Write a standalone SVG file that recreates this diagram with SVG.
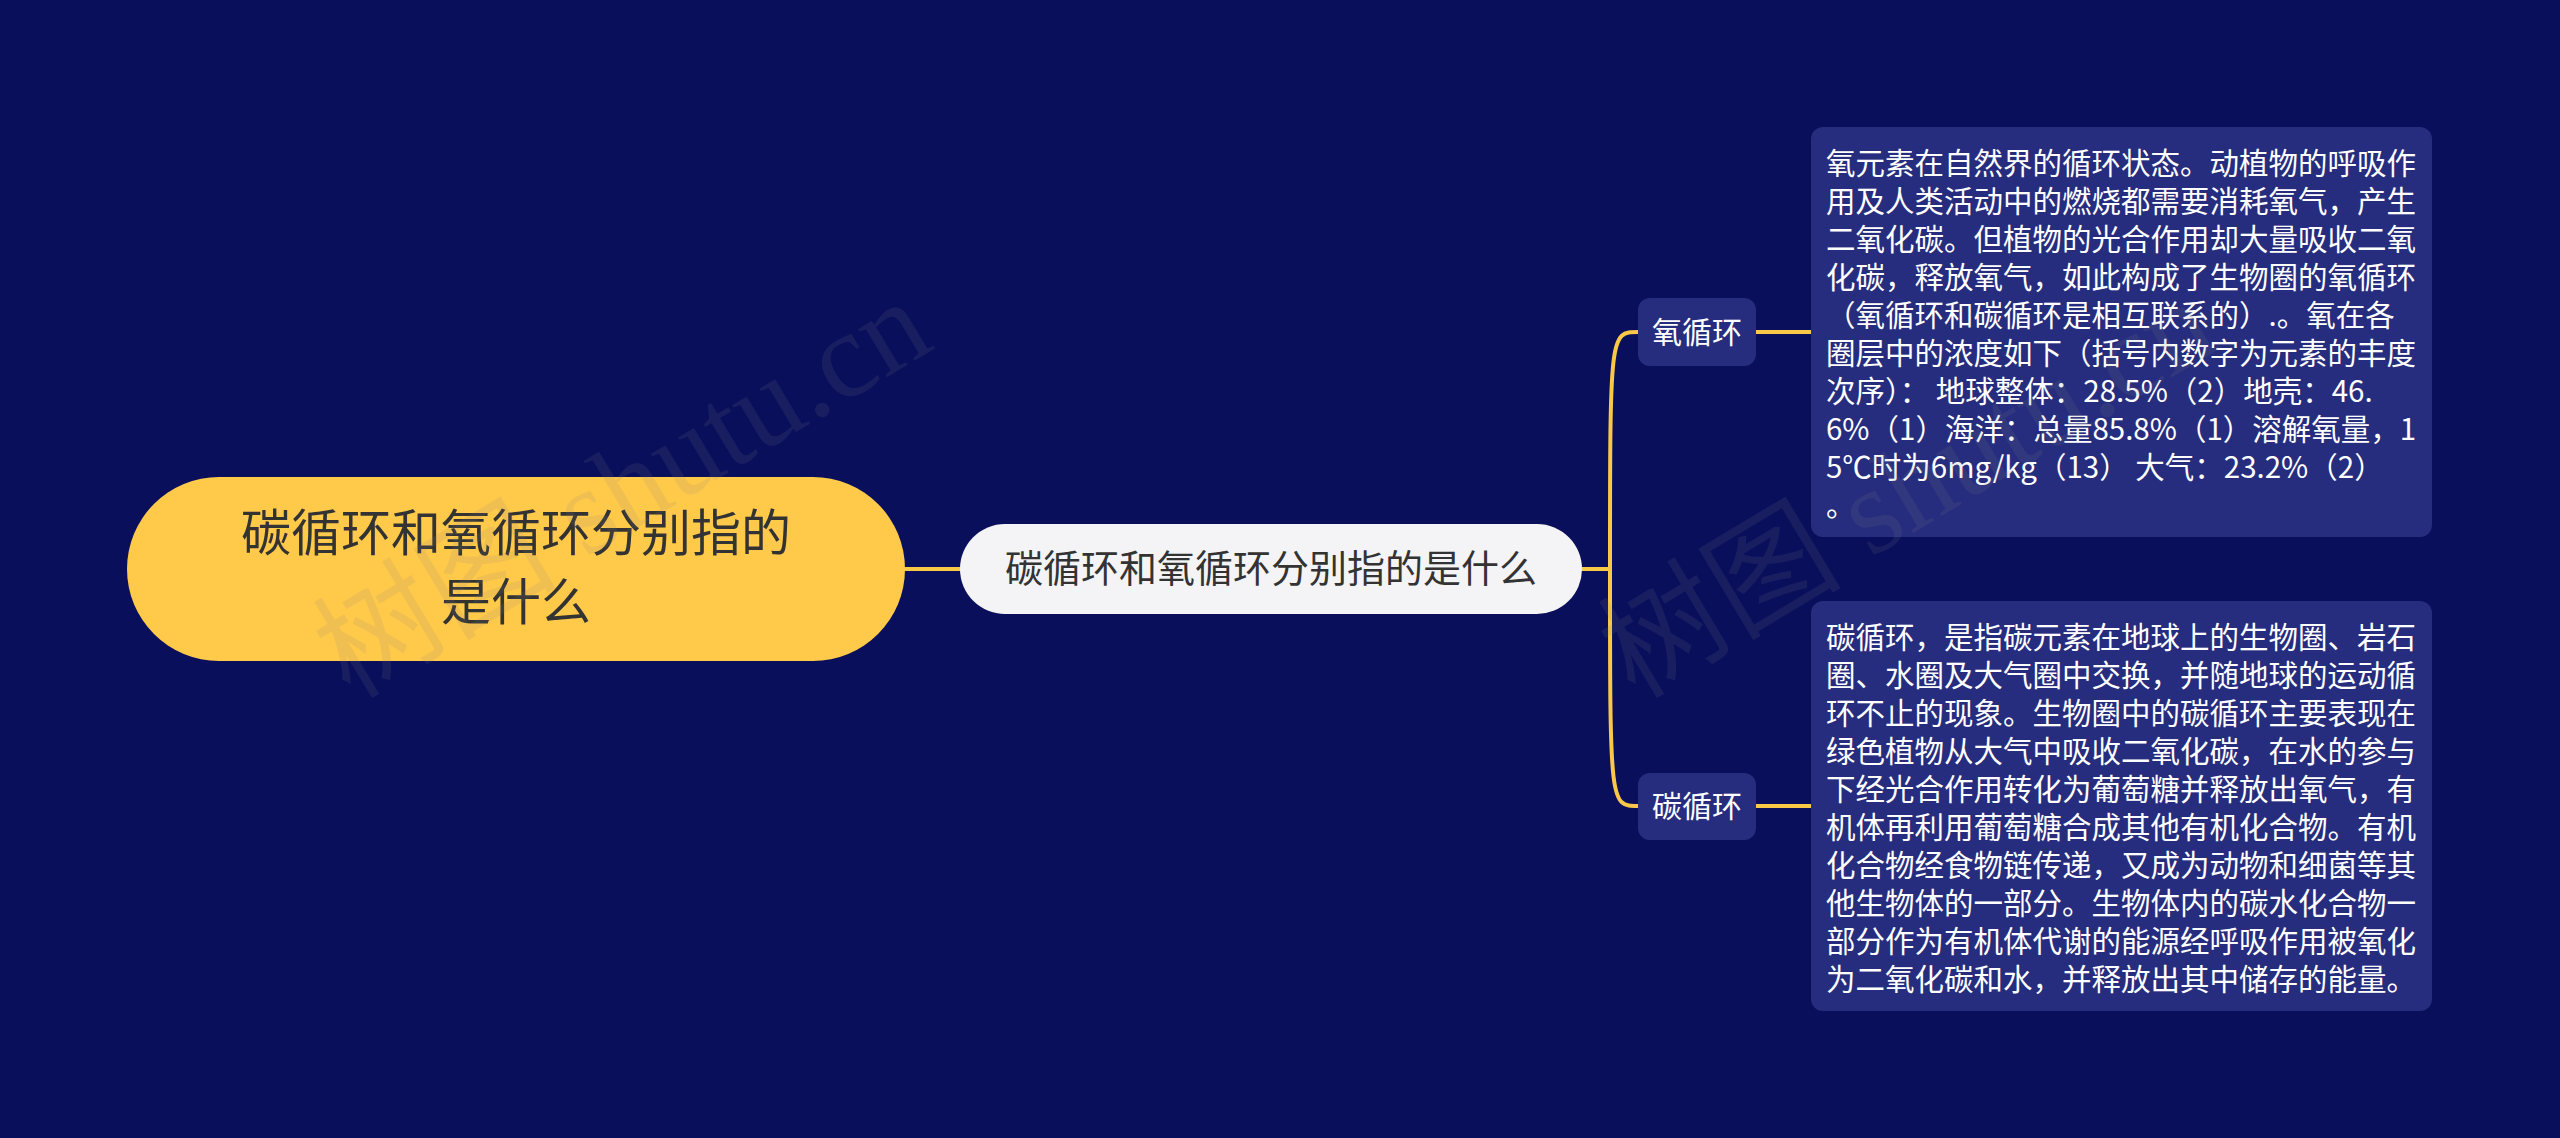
<svg xmlns="http://www.w3.org/2000/svg" width="2560" height="1138" viewBox="0 0 2560 1138">
<style>
.cjk{font-family:"Noto Sans CJK SC","Noto Sans",sans-serif}
.rootText{font-size:50px;fill:#333333;text-anchor:middle}
.centerText{font-size:38px;fill:#333333;text-anchor:middle}
.subText{font-size:30px;fill:#ffffff;text-anchor:middle}
.boxText{font-size:29.5px;fill:#ffffff}
.sub{fill:#272d7e}
.link{fill:none;stroke:#f9c846;stroke-width:4;stroke-linecap:round}
.wm{font-family:"Liberation Serif","Noto Sans CJK SC",serif;font-size:122px;fill:#808080;fill-opacity:0.13}
</style>
<rect x="0" y="0" width="2560" height="1138" fill="#0a0f5c"/>
<g id="connectors">
<path class="link" d="M905,569 H960"/>
<path class="link" d="M1582,569 H1610 C1610,332 1610,332 1638,332"/>
<path class="link" d="M1610,569 C1610,806 1610,806 1638,806"/>
<path class="link" d="M1756,332 H1811"/>
<path class="link" d="M1756,806 H1811"/>
</g>
<g id="root">
<rect x="127" y="477" width="778" height="184" rx="92" ry="92" fill="#ffc94a"/>
<text class="cjk rootText"><tspan x="516" y="551">碳循环和氧循环分别指的</tspan><tspan x="516" y="620">是什么</tspan></text>
</g>
<g id="center">
<rect x="960" y="524" width="622" height="90" rx="45" ry="45" fill="#f4f4f6"/>
<text class="cjk centerText" x="1271" y="582">碳循环和氧循环分别指的是什么</text>
</g>
<g id="oxygen">
<rect class="sub" x="1638" y="298" width="118" height="68" rx="12" ry="12"/>
<text class="cjk subText" x="1697" y="343">氧循环</text>
</g>
<g id="carbon">
<rect class="sub" x="1638" y="773" width="118" height="67" rx="12" ry="12"/>
<text class="cjk subText" x="1697" y="817">碳循环</text>
</g>
<g id="oxygen-detail">
<rect class="sub" x="1811" y="127" width="621" height="410" rx="12" ry="12"/>
<text class="cjk boxText">
<tspan x="1826" y="174">氧元素在自然界的循环状态。动植物的呼吸作</tspan>
<tspan x="1826" y="212">用及人类活动中的燃烧都需要消耗氧气，产生</tspan>
<tspan x="1826" y="250">二氧化碳。但植物的光合作用却大量吸收二氧</tspan>
<tspan x="1826" y="288">化碳，释放氧气，如此构成了生物圈的氧循环</tspan>
<tspan x="1826" y="326">（氧循环和碳循环是相互联系的）.。氧在各</tspan>
<tspan x="1826" y="364">圈层中的浓度如下（括号内数字为元素的丰度</tspan>
<tspan x="1826" y="402">次序）： 地球整体：28.5%（2）地壳：46.</tspan>
<tspan x="1826" y="440">6%（1）海洋：总量85.8%（1）溶解氧量，1</tspan>
<tspan x="1826" y="478">5℃时为6mg/kg（13） 大气：23.2%（2）</tspan>
<tspan x="1826" y="516">。</tspan>
</text>
</g>
<g id="carbon-detail">
<rect class="sub" x="1811" y="601" width="621" height="410" rx="12" ry="12"/>
<text class="cjk boxText">
<tspan x="1826" y="648">碳循环，是指碳元素在地球上的生物圈、岩石</tspan>
<tspan x="1826" y="686">圈、水圈及大气圈中交换，并随地球的运动循</tspan>
<tspan x="1826" y="724">环不止的现象。生物圈中的碳循环主要表现在</tspan>
<tspan x="1826" y="762">绿色植物从大气中吸收二氧化碳，在水的参与</tspan>
<tspan x="1826" y="800">下经光合作用转化为葡萄糖并释放出氧气，有</tspan>
<tspan x="1826" y="838">机体再利用葡萄糖合成其他有机化合物。有机</tspan>
<tspan x="1826" y="876">化合物经食物链传递，又成为动物和细菌等其</tspan>
<tspan x="1826" y="914">他生物体的一部分。生物体内的碳水化合物一</tspan>
<tspan x="1826" y="952">部分作为有机体代谢的能源经呼吸作用被氧化</tspan>
<tspan x="1826" y="990">为二氧化碳和水，并释放出其中储存的能量。</tspan>
</text>
</g>
<g id="watermark">
<text class="wm" transform="translate(350,700) rotate(-31)">树图 shutu.cn</text>
<text class="wm" transform="translate(1635,700) rotate(-31)">树图 shutu.cn</text>
</g>
</svg>
